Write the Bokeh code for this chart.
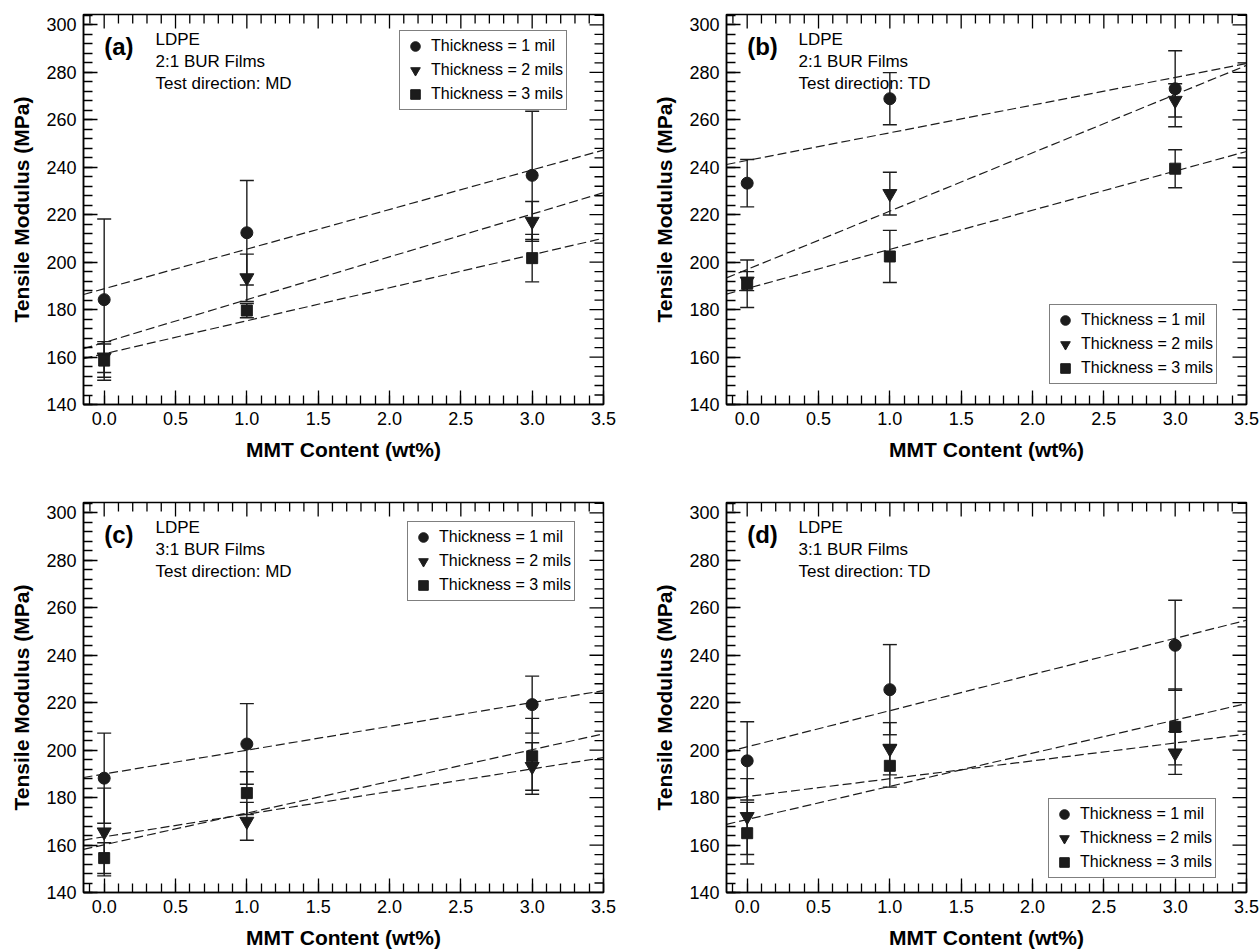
import numpy as np
from bokeh.plotting import figure
from bokeh.models import (Range1d, LinearAxis, SingleIntervalTicker, NumeralTickFormatter,
                          ColumnDataSource, Whisker, TeeHead, Label, Legend, LegendItem)
from bokeh.layouts import row, column
from bokeh.embed import file_html
from bokeh.resources import INLINE

# MMT loading of the films (wt%)
mmt = [0.0, 1.0, 3.0]

# (a) 2:1 BUR, MD
a_1mil = [184.2, 212.4, 236.6]
a_1mil_err = [34.0, 22.0, 27.0]
a_2mil = [160.0, 193.4, 217.2]
a_2mil_err = [6.5, 10.0, 8.4]
a_3mil = [158.5, 179.6, 201.7]
a_3mil_err = [7.0, 3.0, 10.0]

# (b) 2:1 BUR, TD
b_1mil = [233.3, 268.9, 273.1]
b_1mil_err = [10.0, 11.0, 16.0]
b_2mil = [192.0, 228.9, 268.2]
b_2mil_err = [4.0, 9.0, 7.0]
b_3mil = [190.9, 202.4, 239.4]
b_3mil_err = [10.0, 11.0, 8.0]

# (c) 3:1 BUR, MD
c_1mil = [188.2, 202.6, 219.2]
c_1mil_err = [19.0, 17.0, 12.0]
c_2mil = [165.5, 170.0, 193.1]
c_2mil_err = [18.5, 8.0, 10.0]
c_3mil = [154.5, 181.9, 197.4]
c_3mil_err = [6.5, 9.0, 16.0]

# (d) 3:1 BUR, TD
d_1mil = [195.5, 225.5, 244.2]
d_1mil_err = [16.5, 19.0, 19.0]
d_2mil = [172.0, 200.6, 198.8]
d_2mil_err = [16.0, 11.0, 9.0]
d_3mil = [165.0, 193.4, 209.8]
d_3mil_err = [13.0, 9.0, 16.0]

series_labels = ["Thickness = 1 mil", "Thickness = 2 mils", "Thickness = 3 mils"]
x_major_step, x_minor_step = 0.5, 0.1
y_major_step, y_minor_step = 20, 4

FONT = "Liberation Sans"
INK = "#1c1c1c"
X_LO, X_HI = -0.145, 3.5
Y_LO, Y_HI = 140, 304.4
MAJOR_LEN, MINOR_LEN = 14, 9

MARKERS = [("circle", 12), ("inverted_triangle", 14), ("square", 11)]


def tick_positions(lo, hi, major, minor):
    n0 = int(np.ceil(lo / minor - 1e-9))
    n1 = int(np.floor(hi / minor + 1e-9))
    ticks = np.round(np.arange(n0, n1 + 1) * minor, 6)
    is_major = np.isclose(np.round(ticks / major) * major, ticks)
    return ticks[is_major], ticks[~is_major]


def add_axis(p, side):
    if side == "below":
        ticker = SingleIntervalTicker(interval=x_major_step,
                                      num_minor_ticks=int(round(x_major_step / x_minor_step)))
    else:
        ticker = SingleIntervalTicker(interval=y_major_step,
                                      num_minor_ticks=int(round(y_major_step / y_minor_step)))
    ax = LinearAxis(ticker=ticker)
    ax.axis_line_color = "black"
    ax.axis_line_width = 1.5
    ax.major_tick_in = MAJOR_LEN
    ax.major_tick_out = 0
    ax.minor_tick_in = MINOR_LEN
    ax.minor_tick_out = 0
    ax.major_tick_line_color = "black"
    ax.minor_tick_line_color = "black"
    ax.major_tick_line_width = 1.3
    ax.minor_tick_line_width = 1.3
    ax.major_label_text_font = FONT
    ax.major_label_text_font_size = "18px"
    ax.major_label_text_color = "black"
    ax.major_label_standoff = 7
    ax.axis_label_text_font = FONT
    ax.axis_label_text_font_style = "bold"
    ax.axis_label_text_font_size = "21px"
    ax.axis_label_text_color = "black"
    ax.axis_label_standoff = 10
    if side == "below":
        ax.formatter = NumeralTickFormatter(format="0.0")
        ax.axis_label = "MMT Content (wt%)"
    else:
        ax.axis_label = "Tensile Modulus (MPa)"
    p.add_layout(ax, side)


def add_mirror_ticks(p):
    # inward ticks along the top and right edges of the frame (the outer half is clipped)
    xmaj, xmin = tick_positions(X_LO, X_HI, x_major_step, x_minor_step)
    ymaj, ymin = tick_positions(Y_LO, Y_HI, y_major_step, y_minor_step)
    for xs, ln in ((xmaj, MAJOR_LEN), (xmin, MINOR_LEN)):
        p.scatter(xs, [Y_HI] * len(xs), marker="dash", angle=np.pi / 2, size=2 * ln,
                  line_color="black", line_width=1.3)
    for ys, ln in ((ymaj, MAJOR_LEN), (ymin, MINOR_LEN)):
        p.scatter([X_HI] * len(ys), ys, marker="dash", angle=0, size=2 * ln,
                  line_color="black", line_width=1.3)


def make_panel(tag, bur, direction, groups, legend_loc, left, right, bottom):
    p = figure(frame_width=520, frame_height=390,
               x_range=Range1d(X_LO, X_HI), y_range=Range1d(Y_LO, Y_HI),
               x_axis_type=None, y_axis_type=None,
               output_backend="svg", toolbar_location=None,
               min_border_left=left, min_border_right=right,
               min_border_top=14, min_border_bottom=bottom,
               background_fill_color="white", border_fill_color="white")
    p.outline_line_color = "black"
    p.outline_line_width = 1.5
    p.xgrid.visible = False
    p.ygrid.visible = False
    add_axis(p, "below")
    add_axis(p, "left")
    add_mirror_ticks(p)

    items = []
    for (vals, errs), (marker, size), label in zip(groups, MARKERS, series_labels):
        vals = np.asarray(vals)
        errs = np.asarray(errs)
        src = ColumnDataSource(dict(x=mmt, y=vals, upper=vals + errs, lower=vals - errs))

        # least-squares trend line across the full axis width
        slope, icpt = np.polyfit(mmt, vals, 1)
        xs = [X_LO, X_HI]
        p.line(xs, [icpt + slope * x for x in xs], line_color=INK,
               line_width=1.2, line_dash="9 4")

        p.add_layout(Whisker(source=src, base="x", upper="upper", lower="lower",
                             dimension="height", line_color=INK, line_width=1.4,
                             upper_head=TeeHead(size=14, line_color=INK, line_width=1.4),
                             lower_head=TeeHead(size=14, line_color=INK, line_width=1.4)))
        r = p.scatter("x", "y", source=src, marker=marker, size=size,
                      fill_color=INK, line_color=INK)
        items.append(LegendItem(label=label, renderers=[r]))

    legend = Legend(items=items, location=legend_loc, orientation="vertical")
    legend.border_line_color = "black"
    legend.border_line_width = 1.5
    legend.background_fill_color = "white"
    legend.background_fill_alpha = 1.0
    legend.label_text_font = FONT
    legend.label_text_font_size = "16px"
    legend.label_text_color = "black"
    legend.glyph_width = 24
    legend.glyph_height = 24
    legend.label_standoff = 4
    legend.label_height = 18
    legend.spacing = 0
    legend.padding = 3
    legend.margin = 0
    p.add_layout(legend)

    p.add_layout(Label(x=0.0, y=291, text=tag, text_font=FONT, text_font_size="24px",
                       text_font_style="bold", text_baseline="middle", text_align="left",
                       text_color="black"))
    for yy, txt in zip([294, 284.7, 275.4], ["LDPE", bur, "Test direction: " + direction]):
        p.add_layout(Label(x=0.36, y=yy, text=txt, text_font=FONT, text_font_size="17px",
                           text_baseline="middle", text_align="left", text_color="black"))
    return p


pa = make_panel("(a)", "2:1 BUR Films", "MD",
                [(a_1mil, a_1mil_err), (a_2mil, a_2mil_err), (a_3mil, a_3mil_err)],
                (316, 294), left=83, right=27, bottom=84)
pb = make_panel("(b)", "2:1 BUR Films", "TD",
                [(b_1mil, b_1mil_err), (b_2mil, b_2mil_err), (b_3mil, b_3mil_err)],
                (323, 20), left=96, right=14, bottom=84)
pc = make_panel("(c)", "3:1 BUR Films", "MD",
                [(c_1mil, c_1mil_err), (c_2mil, c_2mil_err), (c_3mil, c_3mil_err)],
                (324, 291), left=83, right=27, bottom=57)
pd = make_panel("(d)", "3:1 BUR Films", "TD",
                [(d_1mil, d_1mil_err), (d_2mil, d_2mil_err), (d_3mil, d_3mil_err)],
                (322, 14), left=96, right=14, bottom=57)

layout = column(row(pa, pb), row(pc, pd))
open("out.html", "w").write(file_html(layout, INLINE))
